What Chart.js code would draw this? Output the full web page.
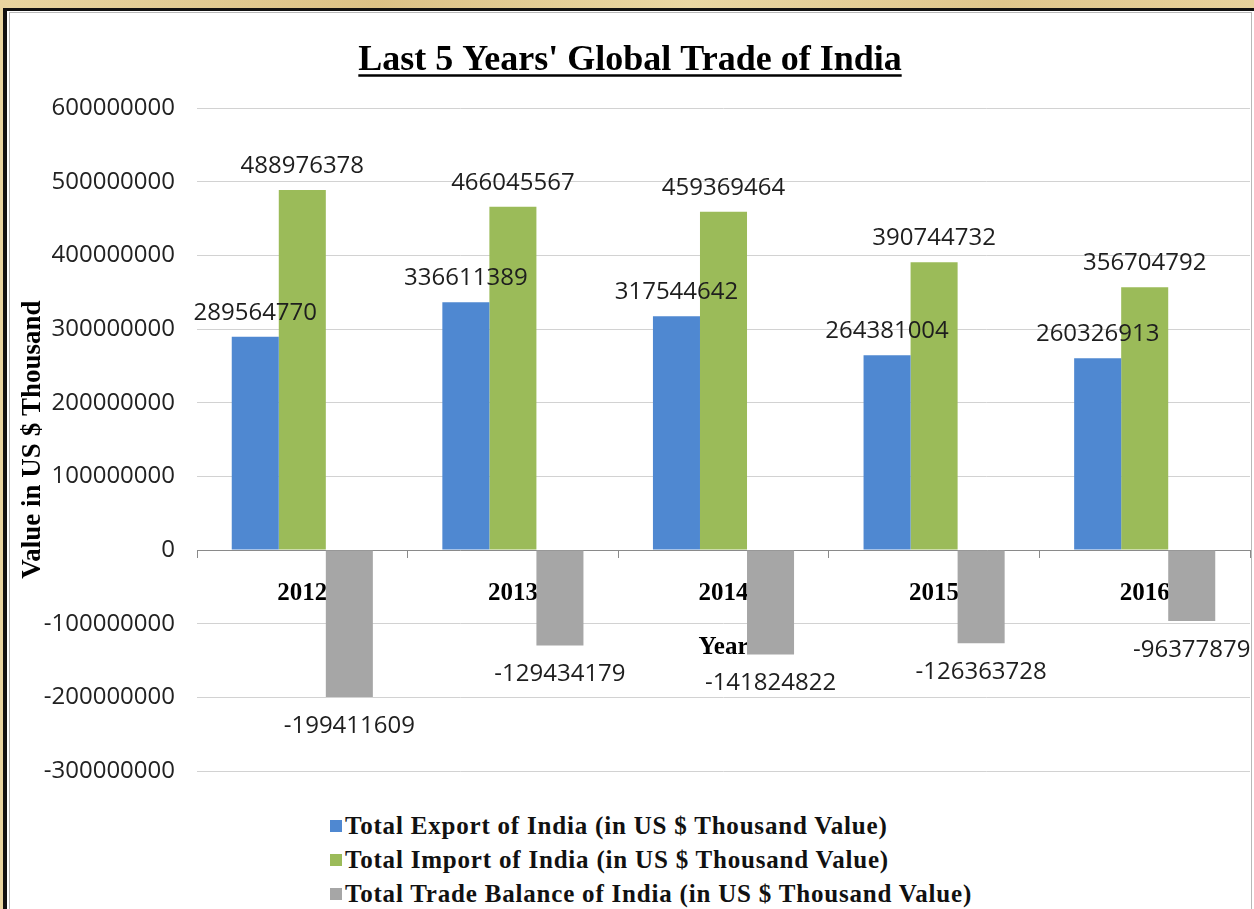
<!DOCTYPE html>
<html>
<head>
<meta charset="utf-8">
<script src="https://cdn.jsdelivr.net/npm/chart.js@4.4.1/dist/chart.umd.min.js"></script>
<style>
  html, body { margin: 0; padding: 0; }
  body {
    width: 1254px; height: 909px; overflow: hidden; position: relative;
    background: #e7d09a;
    background-image: linear-gradient(90deg, #e9d5a0 0%, #dcc286 30%, #ead7a3 55%, #dfc68c 80%, #e8d29c 100%);
  }
  #frame {
    position: absolute; left: 3px; top: 8px; width: 1270px; height: 920px;
    border-left: 4px solid #111; border-top: 3px solid #111; background: #fff;
  }
  #panel {
    position: absolute; left: 9px; top: 12px; width: 1241px; height: 920px;
    border: 1px solid #b8b8b8; background: #fff;
  }
  #chartBox { position: absolute; left: 10px; top: 13px; width: 1241px; height: 795px; }
  #legend {
    position: absolute; left: 330px; top: 809px;
    font-family: "Liberation Serif", serif; font-weight: bold; font-size: 25px;
    letter-spacing: 0.8px; color: #111;
  }
  .item { display: flex; align-items: center; height: 34px; white-space: nowrap; }
  .swatch { width: 12px; height: 12px; margin-right: 3px; }
</style>
</head>
<body>
<div id="frame"></div>
<div id="panel"></div>
<div id="chartBox"><canvas id="tradeChart"></canvas></div>
<div id="legend"></div>

<script>
// data
const years = ['2012', '2013', '2014', '2015', '2016'];
const exportValues = [289564770, 336611389, 317544642, 264381004, 260326913];
const importValues = [488976378, 466045567, 459369464, 390744732, 356704792];
const balanceValues = [-199411609, -129434179, -141824822, -126363728, -96377879];
const seriesNames = [
  'Total Export of India (in US $ Thousand Value)',
  'Total Import of India (in US $ Thousand Value)',
  'Total Trade Balance of India (in US $ Thousand Value)'
];
const yTicks = [-300000000, -200000000, -100000000, 0, 100000000, 200000000, 300000000, 400000000, 500000000, 600000000];

const colors = ['#4f88d1', '#9bbb59', '#a6a6a6'];
const serif = '"Liberation Serif", "Times New Roman", serif';
const sans = '"Open Sans", sans-serif';

// value labels above / below each bar
const valueLabels = {
  id: 'valueLabels',
  afterDatasetsDraw(chart) {
    const ctx = chart.ctx;
    ctx.save();
    ctx.font = '24px ' + sans;
    ctx.fillStyle = '#1e1e1e';
    ctx.textAlign = 'center';
    ctx.textBaseline = 'middle';
    chart.data.datasets.forEach((ds, i) => {
      chart.getDatasetMeta(i).data.forEach((bar, j) => {
        const v = ds.data[j];
        const y = v >= 0 ? bar.y - 24 : bar.y + 29;
        ctx.fillText(String(v), bar.x, y);
      });
    });
    ctx.restore();
  }
};

// underline under the chart title
const titleUnderline = {
  id: 'titleUnderline',
  afterDraw(chart) {
    const block = chart.titleBlock;
    if (!block) return;
    const ctx = chart.ctx;
    const opts = chart.options.plugins.title;
    ctx.save();
    ctx.font = 'bold ' + opts.font.size + 'px ' + serif;
    const w = ctx.measureText(opts.text).width;
    const cx = (block.left + block.right) / 2;
    const y = block.top + opts.padding.top + opts.font.size * 1.2 / 2 + 15;
    ctx.strokeStyle = '#000';
    ctx.lineWidth = 2.5;
    ctx.beginPath();
    ctx.moveTo(cx - w / 2, y);
    ctx.lineTo(cx + w / 2, y);
    ctx.stroke();
    ctx.restore();
  }
};

const datasets = [exportValues, importValues, balanceValues].map((vals, i) => ({
  label: seriesNames[i],
  data: vals,
  backgroundColor: colors[i],
  borderWidth: 0,
  categoryPercentage: 0.67,
  barPercentage: 1.0
}));

const chart = new Chart(document.getElementById('tradeChart'), {
  type: 'bar',
  data: { labels: years, datasets: datasets },
  plugins: [valueLabels, titleUnderline],
  options: {
    responsive: true,
    maintainAspectRatio: false,
    animation: false,
    devicePixelRatio: 1,
    layout: { padding: { left: 0, right: 1, top: 0, bottom: 37 } },
    plugins: {
      legend: { display: false },
      tooltip: { enabled: false },
      title: {
        display: true,
        text: "Last 5 Years' Global Trade of India",
        color: '#000',
        font: { family: serif, size: 36, weight: 'bold' },
        padding: { top: 26, bottom: 26 }
      }
    },
    scales: {
      x: {
        position: { y: 0 },
        grid: {
          display: true,
          drawOnChartArea: false,
          drawTicks: true,
          tickLength: 7,
          color: '#8a8a8a'
        },
        border: { display: true, color: '#8a8a8a', width: 1 },
        ticks: {
          color: '#000',
          padding: 21,
          font: { family: serif, size: 25, weight: 'bold' }
        },
        title: {
          display: true,
          text: 'Year',
          color: '#000',
          font: { family: serif, size: 25, weight: 'bold' },
          padding: { top: 3, bottom: 0 }
        }
      },
      y: {
        min: -300000000,
        max: 600000000,
        afterBuildTicks(scale) {
          scale.ticks = yTicks.map(v => ({ value: v }));
        },
        afterFit(scale) {
          scale.width = 187;
        },
        grid: { color: '#d2d2d2', lineWidth: 1, drawTicks: false },
        border: { display: false },
        ticks: {
          color: '#222',
          padding: 22,
          font: { family: sans, size: 24 },
          callback: v => String(v)
        },
        title: {
          display: true,
          text: 'Value in US $ Thousand',
          color: '#000',
          font: { family: serif, size: 27, weight: 'bold' },
          padding: { top: 7, bottom: 0 }
        }
      }
    }
  }
});

// legend stacked one entry per line, as in the original
const legendEl = document.getElementById('legend');
chart.data.datasets.forEach(ds => {
  const row = document.createElement('div');
  row.className = 'item';
  const sw = document.createElement('span');
  sw.className = 'swatch';
  sw.style.background = ds.backgroundColor;
  const txt = document.createElement('span');
  txt.textContent = ds.label;
  row.appendChild(sw);
  row.appendChild(txt);
  legendEl.appendChild(row);
});
</script>
</body>
</html>
